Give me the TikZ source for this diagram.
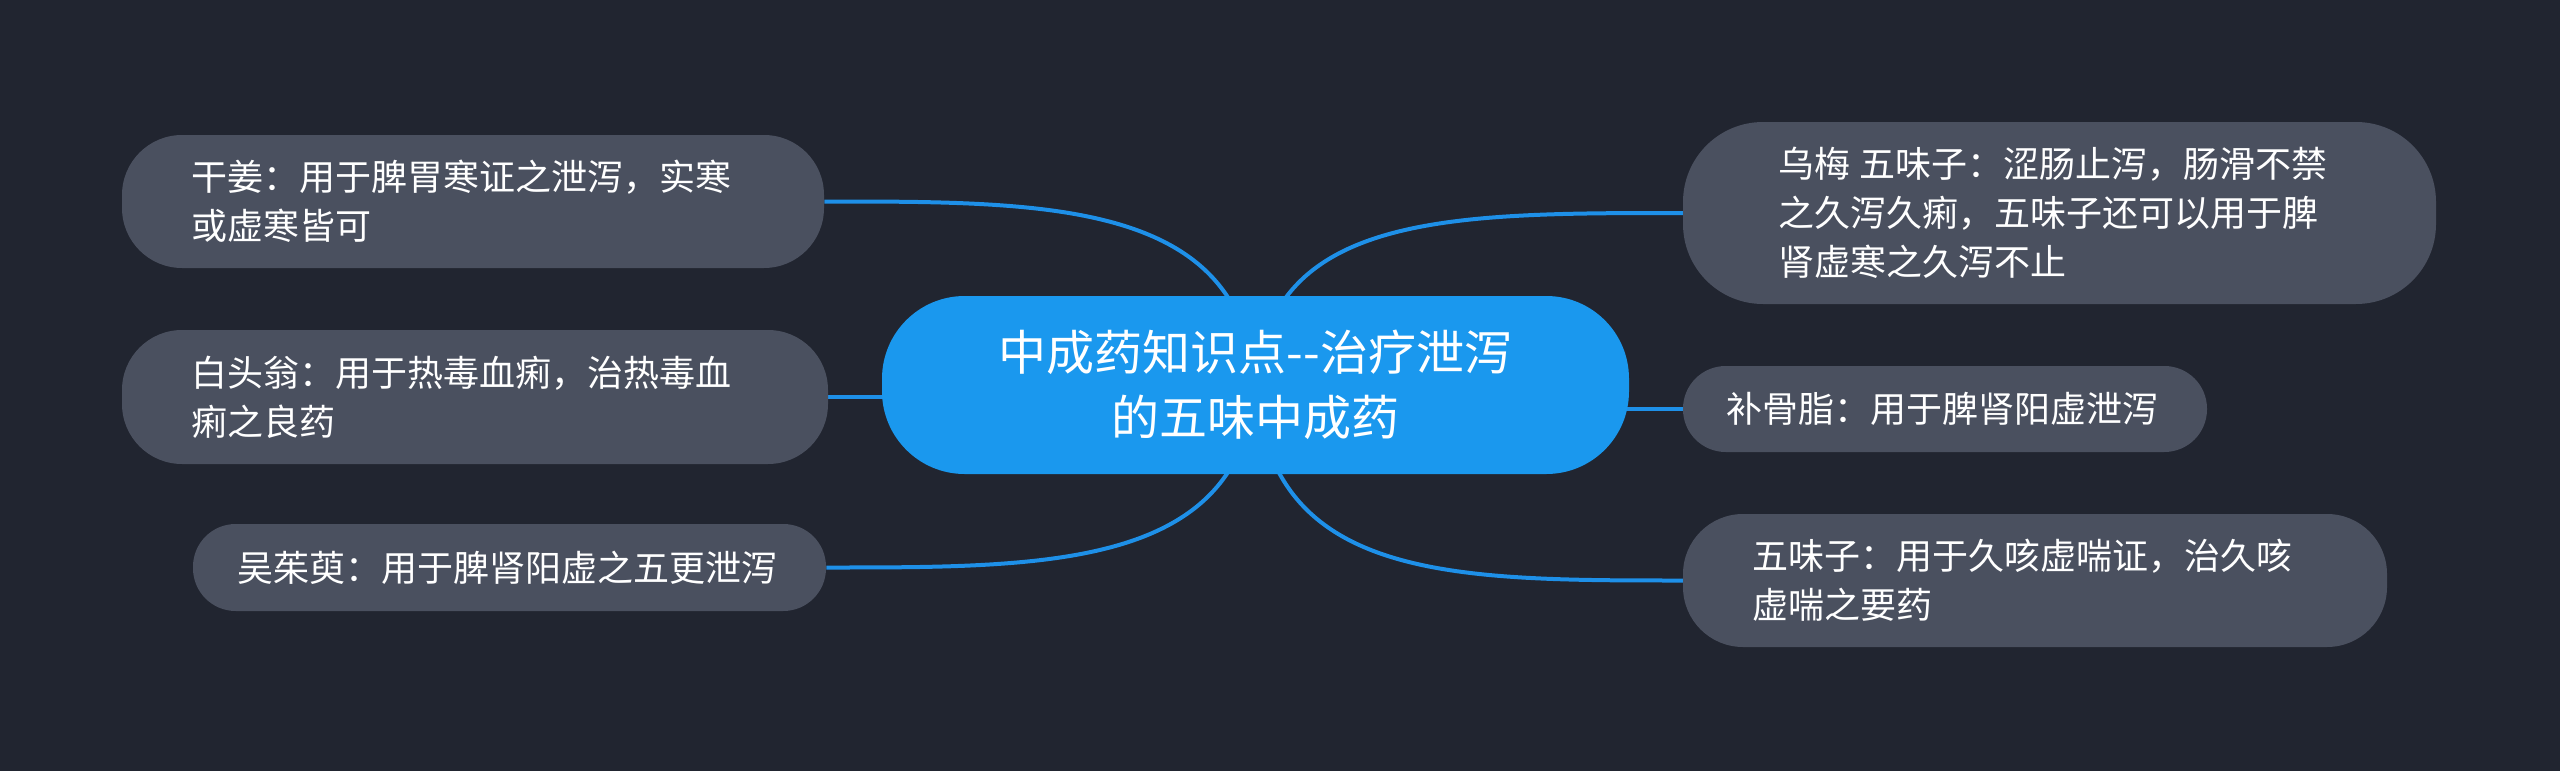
\documentclass[tikz,border=0pt]{standalone}
\usepackage{fontspec}
\setmainfont{Noto Sans CJK SC}
\definecolor{bgdark}{RGB}{33,37,48}
\definecolor{leafgray}{RGB}{74,80,95}
\definecolor{rootblue}{RGB}{26,152,238}
\definecolor{linkblue}{RGB}{30,144,232}
\pgfdeclarelayer{bg}
\pgfdeclarelayer{lines}
\pgfsetlayers{bg,lines,main}

\begin{document}
\begin{tikzpicture}[x=0.75pt, y=-0.75pt,
    rootnode/.style={fill=rootblue, text=white, rounded corners=62pt, align=center,
      minimum width=560.25pt, minimum height=133.5pt, inner sep=0pt,
      font=\fontsize{36pt}{48.75pt}\selectfont},
    leaf/.style={fill=leafgray, text=white, align=left, inner ysep=0pt,
      font=\fontsize{27pt}{36.75pt}\selectfont},
    link/.style={draw=linkblue, line width=3pt}]
      \begin{pgfonlayer}{bg}
        \fill[bgdark] (0,0) rectangle (2560,771);
      \end{pgfonlayer}

      \node[rootnode] (root) at (1255.5,385) {中成药知识点-{}-治疗泄泻\\的五味中成药};

      \node[leaf, minimum width=526.5pt, minimum height=99.75pt, inner xsep=51.75pt,
        text width=423pt, rounded corners=45pt] (ganjiang) at (473,201.5)
        {干姜：用于脾胃寒证之泄泻，实寒\\或虚寒皆可};
      \node[leaf, minimum width=529.5pt, minimum height=100.5pt, inner xsep=51.75pt,
        text width=426pt, rounded corners=45pt] (baitouweng) at (475,397)
        {白头翁：用于热毒血痢，治热毒血\\痢之良药};
      \node[leaf, minimum width=474.75pt, minimum height=65.25pt, inner xsep=33pt,
        text width=408.75pt, rounded corners=32pt] (wuzhuyu) at (509.5,567.5)
        {吴茱萸：用于脾肾阳虚之五更泄泻};

      \node[leaf, minimum width=564.75pt, minimum height=136.5pt, inner xsep=71.25pt,
        text width=422.25pt, rounded corners=60pt] (wumei) at (2059.5,213)
        {乌梅\hspace{7pt}五味子：涩肠止泻，肠滑不禁\\之久泻久痢，五味子还可以用于脾\\肾虚寒之久泻不止};
      \node[leaf, minimum width=393pt, minimum height=64.5pt, inner xsep=32.25pt,
        text width=328.5pt, rounded corners=32pt] (buguzhi) at (1945,409)
        {补骨脂：用于脾肾阳虚泄泻};
      \node[leaf, minimum width=528pt, minimum height=99.75pt, inner xsep=51.75pt,
        text width=424.5pt, rounded corners=45pt] (wuweizi) at (2035,580.5)
        {五味子：用于久咳虚喘证，治久咳\\虚喘之要药};

      \begin{pgfonlayer}{lines}
        \draw[link] (root.center) .. controls +(-15,-184) and +(226,0) .. (ganjiang.east);
        \draw[link] (root.center |- baitouweng.east) -- (baitouweng.east);
        \draw[link] (root.center) .. controls +(-15,183) and +(224,0) .. (wuzhuyu.east);
        \draw[link] (root.center) .. controls +(15,-172) and +(-233,0) .. (wumei.west);
        \draw[link] (root.center |- buguzhi.west) -- (buguzhi.west);
        \draw[link] (root.center) .. controls +(15,195) and +(-233,0) .. (wuweizi.west);
      \end{pgfonlayer}
    \end{tikzpicture}
\end{document}
